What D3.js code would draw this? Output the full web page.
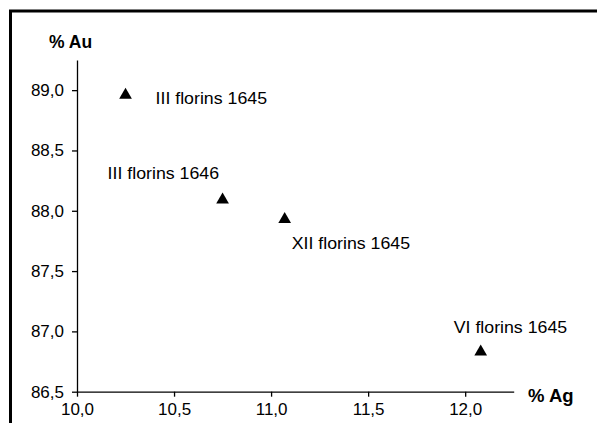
<!DOCTYPE html>
<html>
<head>
<meta charset="utf-8">
<script src="https://cdn.jsdelivr.net/npm/d3@7"></script>
<style>
  body { margin: 0; background: #fff; }
  text { font-family: "Liberation Sans", Arial, sans-serif; fill: #000; }
</style>
</head>
<body>
<script>
// data
var coinLabels = ["III florins 1645", "III florins 1646", "XII florins 1645", "VI florins 1645"];
var agValues = [10.25, 10.75, 11.07, 12.08];
var auValues = [88.96, 88.09, 87.93, 86.83];
var xTicks = [10.0, 10.5, 11.0, 11.5, 12.0];
var yTicks = [86.5, 87.0, 87.5, 88.0, 88.5, 89.0];

// where each label sits relative to its point
var labelDx = [30, -115, 7, -27];
var labelDy = [9, -21, 30, -19];

var svgWidth = 597;
var svgHeight = 423;

var svg = d3.select("body")
  .append("svg")
  .attr("width", svgWidth)
  .attr("height", svgHeight);

// frame, only left and top edges show in the picture
svg.append("rect")
  .attr("x", 10.5)
  .attr("y", 11)
  .attr("width", 700)
  .attr("height", 600)
  .attr("fill", "none")
  .attr("stroke", "#000")
  .attr("stroke-width", 3);

var xScale = d3.scaleLinear().domain([10, 12.25]).range([77, 513.7]);
var yScale = d3.scaleLinear().domain([86.5, 89.25]).range([391.7, 60]);

var fmt = function(d) { return d3.format(".1f")(d).replace(".", ","); };

var bottomAxis = d3.axisBottom(xScale)
  .tickValues(xTicks)
  .tickFormat(fmt)
  .tickSize(5)
  .tickSizeOuter(0)
  .tickPadding(6);

var leftAxis = d3.axisLeft(yScale)
  .tickValues(yTicks)
  .tickFormat(fmt)
  .tickSize(5)
  .tickSizeOuter(0)
  .tickPadding(8);

var xAxisG = svg.append("g")
  .attr("transform", "translate(0," + yScale(86.5) + ")")
  .call(bottomAxis);

var yAxisG = svg.append("g")
  .attr("transform", "translate(" + xScale(10) + ",0)")
  .call(leftAxis);

[xAxisG, yAxisG].forEach(function(g) {
  g.select(".domain").attr("stroke", "#000").attr("stroke-width", 1.3);
  g.selectAll(".tick line").attr("stroke", "#000").attr("stroke-width", 1.3);
  g.selectAll(".tick text")
    .style("font-size", "17px")
    .attr("font-family", "Liberation Sans, Arial, sans-serif")
    .attr("fill", "#000");
});

// axis titles
svg.append("text")
  .attr("x", 49)
  .attr("y", 48)
  .style("font-size", "17.5px")
  .style("font-weight", "bold")
  .text("% Au");

svg.append("text")
  .attr("x", 528)
  .attr("y", 401.5)
  .style("font-size", "18.5px")
  .style("font-weight", "bold")
  .text("% Ag");

// points
var triangle = d3.symbol().type(d3.symbolTriangle).size(70);

svg.selectAll(".pt")
  .data(agValues)
  .enter()
  .append("path")
  .attr("class", "pt")
  .attr("d", triangle)
  .attr("transform", function(d, i) {
    return "translate(" + xScale(d) + "," + yScale(auValues[i]) + ")";
  })
  .attr("fill", "#000");

// labels are a bit wider than the plain font, so stretch them sideways
svg.selectAll(".lbl")
  .data(coinLabels)
  .enter()
  .append("text")
  .attr("class", "lbl")
  .attr("transform", function(d, i) {
    var x = xScale(agValues[i]) + labelDx[i];
    var y = yScale(auValues[i]) + labelDy[i];
    return "translate(" + x + "," + y + ") scale(1.11,1)";
  })
  .style("font-size", "16px")
  .text(function(d) { return d; });
</script>
</body>
</html>
